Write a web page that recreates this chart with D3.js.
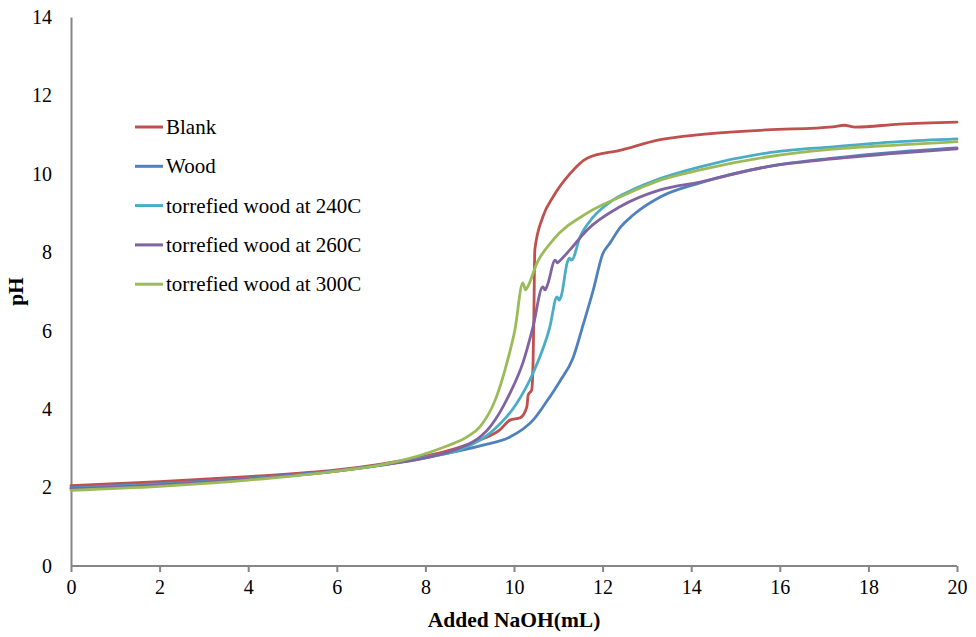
<!DOCTYPE html>
<html lang="en">
<head>
    <meta charset="UTF-8">
    <title>Titration curves</title>
    <script src="https://d3js.org/d3.v7.min.js"></script>
    <style>
        body { margin: 0; background: #fff; }
        svg { display: block; }
        svg text { font-family: "Liberation Serif", "DejaVu Serif", serif; fill: #000; }
        .axis path, .axis line { stroke: #868686; stroke-width: 2px; }
        .axis text { font-size: 20px; }
        .series { fill: none; stroke-width: 2.8px; stroke-linejoin: round; stroke-linecap: round; }
        .legend text { font-size: 21px; }
        .title { font-size: 21.5px; font-weight: bold; }
    </style>
</head>
<body>
    <svg width="976" height="637"></svg>
    <script>
        // values (mL NaOH, pH)
        const seriesNames = ["Blank", "Wood", "torrefied wood at 240C", "torrefied wood at 260C", "torrefied wood at 300C"];
        const colors = ["#C0504D", "#4F81BD", "#4BACC6", "#8064A2", "#9BBB59"];

        const blankX = [0, 2, 4, 6, 7, 8, 8.6, 9.2, 9.68, 9.91, 10.14, 10.29, 10.32, 10.4, 10.43, 10.45, 10.47, 10.65, 10.88, 11.26, 11.65, 12.39, 13.3, 14.2, 15.7, 17.2, 17.45, 17.7, 18.7, 20];
        const blankY = [2.05, 2.15, 2.28, 2.45, 2.6, 2.8, 2.97, 3.2, 3.47, 3.72, 3.78, 4.06, 4.36, 4.49, 5.18, 6.5, 8.06, 8.9, 9.41, 10.0, 10.4, 10.6, 10.87, 11.0, 11.12, 11.2, 11.24, 11.19, 11.27, 11.32];

        const woodX = [0, 2, 4, 6, 7, 8, 8.7, 9.3, 9.91, 10.43, 10.74, 11.04, 11.33, 11.56, 11.79, 12.0, 12.17, 12.39, 12.69, 13.3, 14.2, 15.7, 17.2, 18.7, 20];
        const woodY = [2.0, 2.1, 2.24, 2.43, 2.58, 2.76, 2.92, 3.08, 3.29, 3.72, 4.2, 4.72, 5.3, 6.15, 7.04, 7.95, 8.24, 8.62, 8.95, 9.41, 9.77, 10.18, 10.4, 10.56, 10.66];

        const t240X = [0, 2, 4, 6, 7, 8, 8.85, 9.46, 10.07, 10.43, 10.81, 10.97, 11.02, 11.07, 11.2, 11.25, 11.3, 11.49, 11.79, 12.23, 12.69, 13.3, 14.2, 15.7, 17.2, 18.7, 20];
        const t240Y = [1.98, 2.08, 2.22, 2.42, 2.57, 2.77, 3.0, 3.39, 4.16, 4.92, 6.1, 6.86, 6.78, 6.9, 7.73, 7.85, 7.8, 8.39, 8.9, 9.33, 9.6, 9.88, 10.18, 10.53, 10.69, 10.82, 10.89];

        const t260X = [0, 2, 4, 6, 7, 8, 8.56, 9.46, 9.91, 10.2, 10.43, 10.65, 10.7, 10.75, 10.93, 10.98, 11.03, 11.26, 11.65, 12.39, 13.3, 14.2, 15.7, 17.2, 18.7, 20];
        const t260Y = [1.97, 2.07, 2.22, 2.42, 2.57, 2.76, 2.92, 3.55, 4.41, 5.18, 6.1, 7.12, 7.04, 7.15, 7.8, 7.73, 7.78, 8.06, 8.57, 9.16, 9.59, 9.79, 10.18, 10.38, 10.53, 10.64];

        const t300X = [0, 2, 4, 6, 7, 7.6, 8.1, 8.56, 8.95, 9.23, 9.6, 9.84, 10.02, 10.2, 10.26, 10.3, 10.52, 10.88, 11.65, 12.39, 13.3, 14.2, 15.7, 17.2, 18.7, 20];
        const t300Y = [1.93, 2.03, 2.19, 2.42, 2.58, 2.73, 2.9, 3.09, 3.3, 3.55, 4.3, 5.18, 6.02, 7.22, 7.04, 7.1, 7.73, 8.31, 9.0, 9.41, 9.84, 10.1, 10.43, 10.63, 10.74, 10.82];

        const xTicks = [0, 2, 4, 6, 8, 10, 12, 14, 16, 18, 20];
        const yTicks = [0, 2, 4, 6, 8, 10, 12, 14];

        const seriesX = [blankX, woodX, t240X, t260X, t300X];
        const seriesY = [blankY, woodY, t240Y, t260Y, t300Y];

        const svg = d3.select("svg");
        const margin = { left: 71, right: 19, top: 17, bottom: 71 };
        const width = 976, height = 637;

        const x = d3.scaleLinear().domain([0, 20]).range([margin.left, width - margin.right]);
        const y = d3.scaleLinear().domain([0, 14]).range([height - margin.bottom, margin.top]);

        // x axis
        const xAxis = svg.append("g")
            .attr("class", "axis")
            .attr("transform", `translate(0,${y(0)})`)
            .call(d3.axisBottom(x).tickValues(xTicks).tickSize(6).tickPadding(8).tickFormat(d3.format("d")));

        // y axis, no tick marks
        const yAxis = svg.append("g")
            .attr("class", "axis")
            .attr("transform", `translate(${x(0)},0)`)
            .call(d3.axisLeft(y).tickValues(yTicks).tickSize(0).tickPadding(19).tickSizeOuter(0).tickFormat(d3.format("d")));
        xAxis.attr("font-family", null).attr("font-size", null);
        yAxis.attr("font-family", null).attr("font-size", null);
        xAxis.select(".domain").attr("d", `M${x(0)},0H${x(20)}`);

        const line = d3.line()
            .x(d => x(d[0]))
            .y(d => y(d[1]))
            .curve(d3.curveMonotoneX);

        seriesNames.forEach((name, i) => {
            const pts = seriesX[i].map((v, j) => [v, seriesY[i][j]]);
            svg.append("path")
                .attr("class", "series")
                .attr("stroke", colors[i])
                .attr("d", line(pts));
        });

        // legend
        const legend = svg.append("g").attr("class", "legend");
        seriesNames.forEach((name, i) => {
            const ly = 127 + i * 39.3;
            legend.append("line")
                .attr("x1", 135).attr("x2", 163)
                .attr("y1", ly).attr("y2", ly)
                .attr("stroke", colors[i])
                .attr("stroke-width", 3);
            legend.append("text")
                .attr("x", 166).attr("y", ly)
                .attr("dy", "0.33em")
                .text(name);
        });

        // axis titles
        svg.append("text")
            .attr("class", "title")
            .attr("x", (x(0) + x(20)) / 2)
            .attr("y", 627)
            .attr("text-anchor", "middle")
            .text("Added NaOH(mL)");

        svg.append("text")
            .attr("class", "title")
            .attr("transform", `translate(23,${(y(0) + y(14)) / 2}) rotate(-90)`)
            .attr("text-anchor", "middle")
            .text("pH");
    </script>
</body>
</html>
